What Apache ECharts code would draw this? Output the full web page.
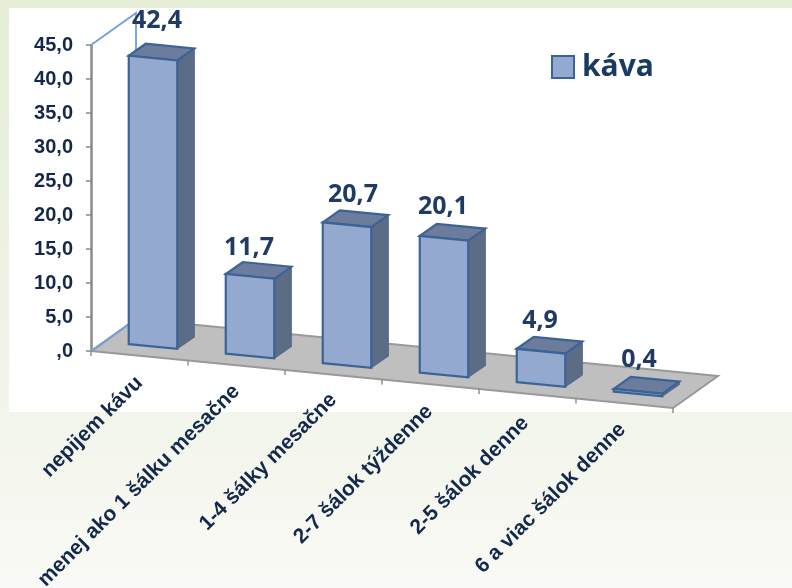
<!DOCTYPE html>
<html><head><meta charset="utf-8">
<style>html,body{margin:0;padding:0;background:#fff}#c{width:792px;height:588px}</style>
<script src="https://cdn.jsdelivr.net/npm/echarts@6/dist/echarts.min.js"></script>
</head><body><div id="c"></div>
<script>
var categories = ['nepijem kávu','menej ako 1 šálku mesačne','1-4 šálky mesačne','2-7 šálok týždenne','2-5 šálok denne','6 a viac šálok denne'];
var coffee = [42.4, 11.7, 20.7, 20.1, 4.9, 0.4];
var valueLabels = ['42,4','11,7','20,7','20,1','4,9','0,4'];
var yTicks = [',0','5,0','10,0','15,0','20,0','25,0','30,0','35,0','40,0','45,0'];

var NAVY='#14284b', LABEL='#1f3b64';
var SLOPE=0.098, DX=45, DY=-32;
var labelNudge=[[4,-11],[-1,-2],[6,-3],[-1,-5],[-1,-4],[1,-5]];
var catNudge=[[0,24],[0,23],[0,22],[-1,24],[-2,26],[-2,23]];

function frame(api){
  var o=api.coord([0,0]), band=api.size([1,0])[0], left=o[0]-band/2;
  return {band:band,left:left,base:o[1],
    fy:function(px,val){return api.coord([0,val])[1]+SLOPE*(px-left);}};
}
function floorItem(params,api){
  var f=frame(api), n=categories.length, x0=f.left, x1=f.left+f.band*n;
  var a=[x0,f.fy(x0,0)], b=[x1,f.fy(x1,0)], c=[x1+DX,b[1]+DY], d=[x0+DX,a[1]+DY];
  var top=[x0,f.fy(x0,45)], topBack=[x0+DX,top[1]+DY];
  var kids=[
    {type:'polygon',shape:{points:[a,b,c,d]},style:{fill:'#bfbfbf',stroke:'#999999',lineWidth:2}},
    {type:'polyline',shape:{points:[[x0+1,a[1]],d]},style:{fill:null,stroke:'#6f9fdc',lineWidth:1.8}},
    {type:'polyline',shape:{points:[top,topBack,d]},style:{fill:null,stroke:'#6f9fdc',lineWidth:1.8}}
  ];
  for(var k=0;k<=n;k++){
    var px=x0+f.band*k, py=f.fy(px,0);
    kids.push({type:'line',shape:{x1:px,y1:py,x2:px,y2:py+5},style:{stroke:'#8f8f8f',lineWidth:1.5}});
  }
  categories.forEach(function(t,i){
    var cx=x0+f.band*(i+.5);
    kids.push({type:'text',x:cx+catNudge[i][0],y:f.fy(cx,0)+catNudge[i][1],rotation:Math.PI/4,
      style:{text:t,textAlign:'right',textVerticalAlign:'middle',fill:NAVY,font:'bold 21px "Liberation Sans"'}});
  });
  return {type:'group',children:kids};
}
function barItem(params,api){
  var i=api.value(0), v=api.value(1), f=frame(api);
  var cx=api.coord([i,0])[0], w=f.band*0.5, ix=13.5, iy=-9.3, dx=17, dy=-12;
  var xl=cx+ix-w/2, xr=cx+ix+w/2;
  function P(x,val,back){return [x+(back?dx:0), f.fy(x-ix,val)+iy+(back?dy:0)];}
  var lb=P(xl,0),rb=P(xr,0),lt=P(xl,v),rt=P(xr,v),rtb=P(xr,v,1),ltb=P(xl,v,1),rbb=P(xr,0,1);
  var stroke='#3c6396';
  return {type:'group',children:[
    {type:'polygon',shape:{points:[rb,rbb,rtb,rt]},style:{fill:'#5d6c85',stroke:'#56698a',lineWidth:1.2}},
    {type:'polygon',shape:{points:[lt,rt,rtb,ltb]},style:{fill:'#6c7c9c',stroke:stroke,lineWidth:2.2}},
    {type:'polygon',shape:{points:[lb,rb,rt,lt]},style:{fill:api.visual('color'),stroke:stroke,lineWidth:2.2}},
    {type:'text',x:cx+ix+labelNudge[i][0],y:ltb[1]-12+labelNudge[i][1],
      style:{text:valueLabels[i],textAlign:'center',textVerticalAlign:'middle',fill:LABEL,font:'bold 25px "Open Sans"'}}
  ]};
}
var chart=echarts.init(document.getElementById('c'),null,{renderer:'canvas'});
chart.setOption({
  animation:false,
  backgroundColor:{type:'linear',x:0,y:0,x2:0,y2:1,colorStops:[{offset:0,color:'#e5edd6'},{offset:.7,color:'#f2f5eb'},{offset:1,color:'#f9faf5'}]},
  graphic:[{type:'rect',shape:{x:9,y:8,width:783,height:404},style:{fill:'#fff'},z:-1,silent:true}],
  grid:{left:91,top:45,width:582,height:306,containLabel:false},
  xAxis:{type:'category',data:categories,axisLine:{show:false},axisTick:{show:false},axisLabel:{show:false}},
  yAxis:{type:'value',min:0,max:45,interval:5,splitLine:{show:false},
    axisLine:{show:true,lineStyle:{color:'#8a8a8a',width:2.5}},
    axisTick:{show:true,length:5,lineStyle:{color:'#8a8a8a',width:1.5}},
    axisLabel:{margin:18,color:NAVY,fontFamily:'"Liberation Sans"',fontWeight:'bold',fontSize:20,
      formatter:function(v){return yTicks[Math.round(v/5)];}}},
  legend:{data:['káva'],left:551,top:52,padding:0,itemWidth:22,itemHeight:22,itemGap:0,icon:'rect',
    textStyle:{color:'#1a3a66',fontFamily:'"Open Sans"',fontWeight:'bold',fontSize:30,padding:[0,0,0,3]},
    itemStyle:{borderColor:'#3c6396',borderWidth:2}},
  series:[
    {name:'floor',type:'custom',silent:true,z:1,clip:false,data:[[0,0]],encode:{x:0,y:1},renderItem:floorItem},
    {name:'káva',type:'custom',z:3,clip:false,itemStyle:{color:'#94a9d0'},
      data:coffee.map(function(v,i){return [i,v];}),encode:{x:0,y:1},renderItem:barItem}
  ]
});
</script></body></html>
